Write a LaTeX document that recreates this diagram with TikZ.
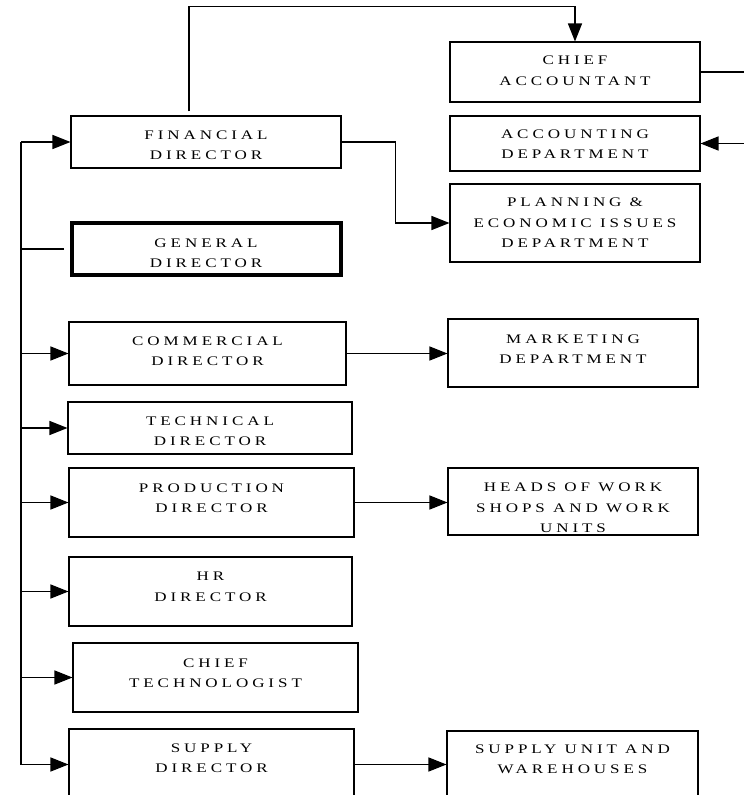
\documentclass[tikz,border=0pt]{standalone}
\usepackage{fontspec}
\setmainfont{Liberation Serif}
\newfontfamily\boxfont{Liberation Serif}[FakeStretch=1.3, LetterSpace=30]
\usetikzlibrary{arrows.meta}
\begin{document}
\begin{tikzpicture}[x=1pt,y=-1pt,
  box/.style={draw, line width=1.1pt, inner sep=0pt},
  thickbox/.style={draw, line width=4pt, inner sep=0pt},
  txt/.style={font=\boxfont\fontsize{13.1}{20.5}\selectfont, align=center, inner sep=0pt},
  conn/.style={line width=1.4pt},
  arr/.style={conn, -{Triangle[length=18pt,width=14pt]}}
]
\useasboundingbox (0,0) rectangle (744,795);
\clip (0,0) rectangle (744,795);

% boxes
\node[box, minimum width=270pt, minimum height=52pt] (FD) at (206,142) {};
\node[txt] (FDt) at (206,145) {FINANCIAL\\DIRECTOR};
\node[thickbox, minimum width=268.7pt, minimum height=52pt] (GD) at (206.4,249) {};
\node[txt] (GDt) at (206,253) {GENERAL\\DIRECTOR};
\node[box, minimum width=250pt, minimum height=60pt] (CA) at (575,72) {};
\node[txt] (CAt) at (575,70.5) {CHIEF\\ACCOUNTANT};
\node[box, minimum width=250pt, minimum height=55pt] (AD) at (575,143.5) {};
\node[txt] (ADt) at (575,144) {ACCOUNTING\\DEPARTMENT};
\node[box, minimum width=250pt, minimum height=78pt] (PD) at (575,223) {};
\node[txt] (PDt) at (575,223) {PLANNING \&\\ECONOMIC ISSUES\\DEPARTMENT};
\node[box, minimum width=277pt, minimum height=63pt] (CD) at (207.5,353.5) {};
\node[txt] (CDt) at (207.5,351) {COMMERCIAL\\DIRECTOR};
\node[box, minimum width=284pt, minimum height=52pt] (TD) at (210,428) {};
\node[txt] (TDt) at (210,431) {TECHNICAL\\DIRECTOR};
\node[box, minimum width=285pt, minimum height=69pt] (PrD) at (211.5,502.5) {};
\node[txt] (PrDt) at (211.5,498) {PRODUCTION\\DIRECTOR};
\node[box, minimum width=250pt, minimum height=68pt] (MD) at (573,353) {};
\node[txt] (MDt) at (573,349) {MARKETING\\DEPARTMENT};
\node[box, minimum width=250pt, minimum height=67pt] (HW) at (573,501.5) {};
\node[txt] (HWt) at (573,508) {HEADS OF WORK\\SHOPS AND WORK\\UNITS};
\node[box, minimum width=283pt, minimum height=69pt] (HR) at (210.5,591.5) {};
\node[txt] (HRt) at (210.5,587) {HR\\DIRECTOR};
\node[box, minimum width=285pt, minimum height=69pt] (CT) at (215.5,677.5) {};
\node[txt] (CTt) at (215.5,673) {CHIEF\\TECHNOLOGIST};
\node[box, minimum width=285pt, minimum height=71pt] (SD) at (211.5,764.5) {};
\node[txt] (SDt) at (211.5,758) {SUPPLY\\DIRECTOR};
\node[box, minimum width=251pt, minimum height=69pt] (SU) at (572.5,765.5) {};
\node[txt] (SUt) at (572.5,759.5) {SUPPLY UNIT AND\\WAREHOUSES};

% bus on the left
\coordinate (bus) at (21,0);
\draw[conn] ([xshift=-6pt]GD.west) -- (GD.west -| bus);
\draw[conn] (FD.west -| bus) -- (SD.west -| bus);
\foreach \n in {FD,CD,TD,PrD,HR,CT,SD}
  \draw[arr] (\n.west -| bus) -- (\n.west);

% top connectors
\draw[arr] ([xshift=-17pt,yshift=4pt]FD.north) -- ++(0,-105) -| (CA.north);
\draw[conn] (CA.east) -- ++(60,0) |- (AD.east);
\draw[arr] ([xshift=60pt]AD.east) -- (AD.east);
\draw[arr] (FD.east) -- ++(54,0) |- (PD.west);

% right-hand arrows
\draw[arr] (CD.east) -- (MD.west |- CD.east);
\draw[arr] (PrD.east) -- (HW.west |- PrD.east);
\draw[arr] (SD.east) -- (SU.west |- SD.east);
\end{tikzpicture}
\end{document}
